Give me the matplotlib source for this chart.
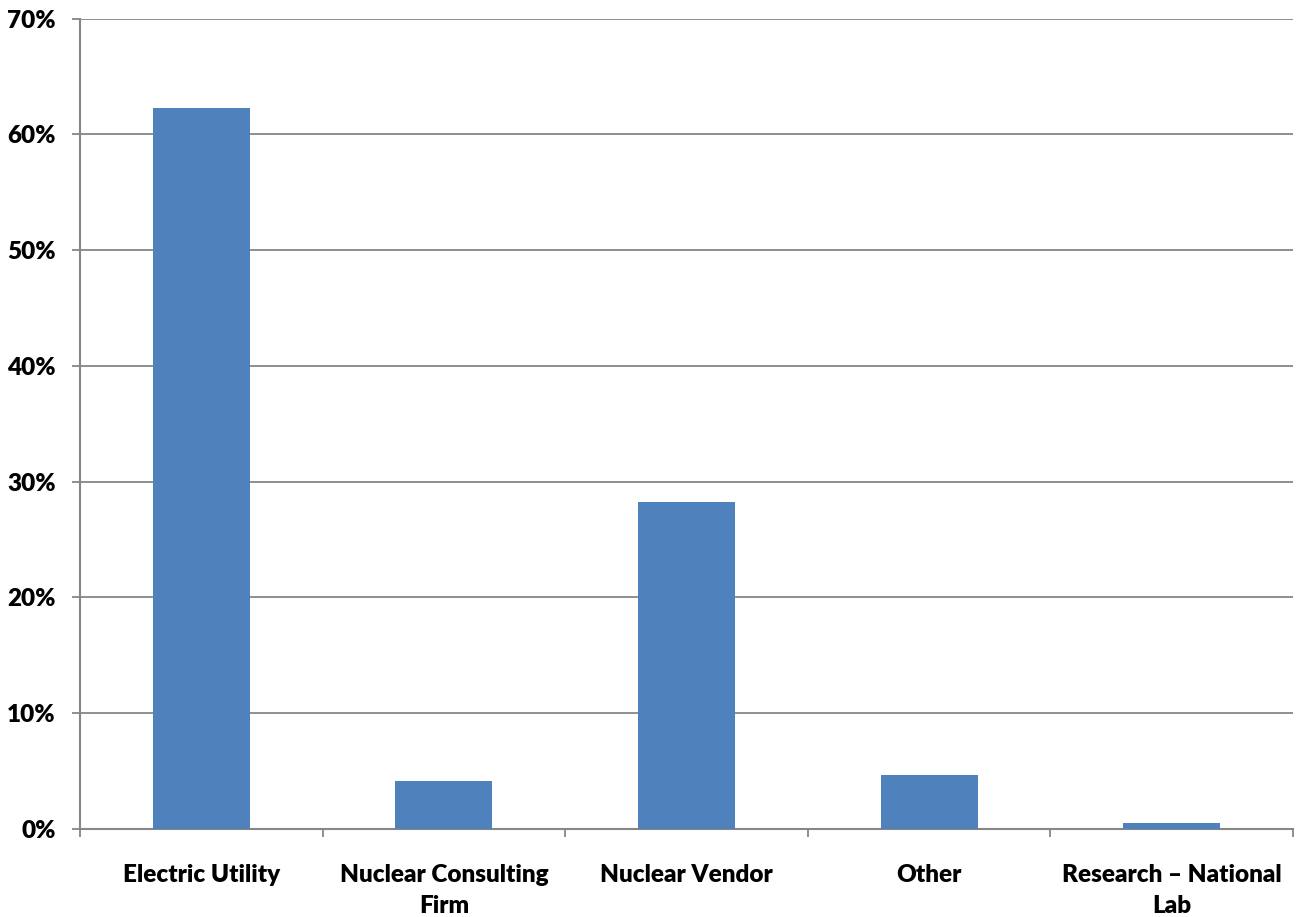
import matplotlib
matplotlib.use("Agg")
import matplotlib.pyplot as plt
from matplotlib.ticker import FuncFormatter, MultipleLocator

categories = ["Electric Utility", "Nuclear Consulting\nFirm", "Nuclear Vendor", "Other", "Research – National\nLab"]
values = [62.3, 4.15, 28.2, 4.7, 0.5]

plt.rcParams['font.family'] = ['Lato', 'DejaVu Sans']

fig = plt.figure(figsize=(12.97, 9.17), dpi=100)
ax = fig.add_axes([0.0617, 0.096, 0.9352, 0.8838])

bar_color = "#4F81BD"
grid_color = "#868686"
FW = "heavy"
FS = 17.5

x = list(range(len(categories)))
ax.bar(x, values, width=0.4, color=bar_color, zorder=3)

ax.set_xlim(-0.5, len(categories) - 0.5)
ax.set_ylim(0, 70)
ax.yaxis.set_major_locator(MultipleLocator(10))
ax.yaxis.set_major_formatter(FuncFormatter(lambda v, p: f"{int(round(v))}%"))
ax.yaxis.grid(True, color=grid_color, linewidth=1.3, zorder=0)
ax.set_axisbelow(True)

ax.set_xticks([i + 0.5 for i in range(-1, len(categories))], minor=False)
ax.set_xticklabels([""] * (len(categories) + 1))
ax.set_xticks(x, minor=True)
ax.set_xticklabels(categories, minor=True, fontsize=FS, fontweight=FW, linespacing=1.5)
ax.tick_params(axis="x", which="minor", length=0, pad=25)
ax.tick_params(axis="x", which="major", length=5.5, width=1.3, color=grid_color, direction="out")
ax.tick_params(axis="y", length=5.5, width=1.3, color=grid_color, labelsize=FS, pad=12)
for lbl in ax.get_yticklabels():
    lbl.set_fontweight(FW)

for s in ["top", "right"]:
    ax.spines[s].set_visible(False)
for s in ["left", "bottom"]:
    ax.spines[s].set_color(grid_color)
    ax.spines[s].set_linewidth(1.5)

fig.savefig("out.png", dpi=100, facecolor="white")
